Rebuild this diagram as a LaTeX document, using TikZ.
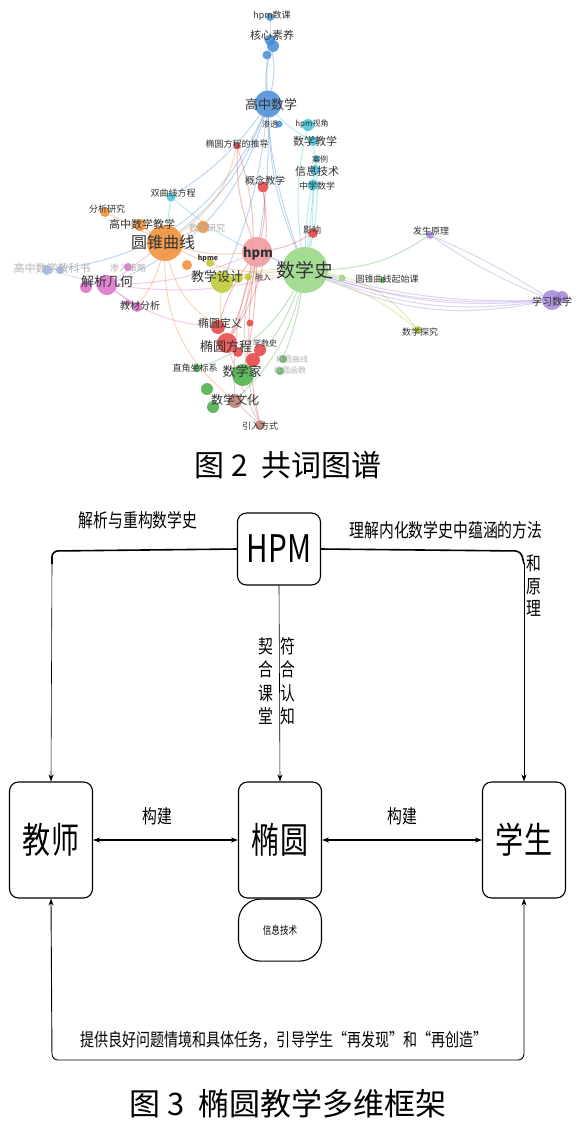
\documentclass[tikz,border=0pt]{standalone}
\usepackage{fontspec}
\setmainfont{Noto Sans CJK SC}
\usetikzlibrary{arrows.meta,positioning,backgrounds}
\definecolor{netblue}{RGB}{70,140,215}
\definecolor{netteal}{RGB}{60,195,215}
\definecolor{netorange}{RGB}{240,140,50}
\definecolor{netred}{RGB}{230,65,65}
\definecolor{netpink}{RGB}{240,150,155}
\definecolor{netgreen}{RGB}{70,175,70}
\definecolor{netlgreen}{RGB}{150,215,130}
\definecolor{netyellow}{RGB}{190,200,45}
\definecolor{netpurple}{RGB}{165,135,220}
\definecolor{netmagenta}{RGB}{220,110,200}
\definecolor{netbrown}{RGB}{185,120,110}
\definecolor{netlblue}{RGB}{150,180,230}
\newcommand{\nrw}[1]{\scalebox{0.78}[1]{#1}}
\newcommand{\fsz}[1]{\fontsize{#1}{#1}\selectfont}

\begin{document}
\begin{tikzpicture}[x=1pt, y=-1pt]
\tikzset{
  vtx/.style={circle, inner sep=0pt, minimum size=#1, fill opacity=0.85},
  lbl/.style={font=\fsz{#1}, inner sep=0pt, text=black!80},
  faint/.style={font=\fsz{#1}, inner sep=0pt, text=black!30},
  link/.style={draw=#1, opacity=0.35, line width=1pt},
  box/.style={draw, rounded corners=9pt, line width=1.1pt, minimum width=83pt, minimum height=116pt, inner sep=0pt},
  heavy/.style={line width=1.6pt},
  thinln/.style={line width=0.6pt},
  tip/.style={-{Stealth[length=7pt,width=5pt]}}
}
\useasboundingbox (0,0) rectangle (577,1130);

% co-word network
\node[vtx=8, fill=netblue] (hpmsk) at (270,17) {};
\node[vtx=11, fill=netblue] (hxsy) at (270,40) {};
\node[vtx=12, fill=netblue] (hxsyb) at (273,46) {};
\node[vtx=9, fill=netblue] (hxsyc) at (267,55) {};
\node[vtx=27, fill=netblue] (gzsx) at (268,104) {};
\node[vtx=7, fill=netblue] (st) at (279,124) {};
\node[vtx=12, fill=netteal] (hpmsj) at (308,125) {};
\node[vtx=10, fill=netteal] (sxjx) at (313,141) {};
\node[vtx=7, fill=netteal] (al) at (317,159) {};
\node[vtx=10, fill=netteal] (xxjs) at (315,170) {};
\node[vtx=11, fill=netteal] (zxsx) at (313,185) {};
\node[vtx=9, fill=netteal] (sqx) at (171,197) {};
\node[vtx=7, fill=netred] (tyfcdtd) at (237,146) {};
\node[vtx=11, fill=netred] (gnjx) at (263,187) {};
\node[vtx=10, fill=netred] (yx) at (313,233) {};
\node[vtx=30, fill=netpink] (hpm) at (257,252) {};
\node[vtx=10, fill=netorange] (fxyj) at (105,212) {};
\node[vtx=12, fill=netorange] (gzsxjx) at (140,225) {};
\node[vtx=12, fill=netorange] (jxyj) at (203,227) {};
\node[vtx=36, fill=netorange] (yzqx) at (165,243) {};
\node[vtx=10, fill=netorange] (kyjs) at (187,265) {};
\node[vtx=8, fill=netyellow] (hpme) at (210,263) {};
\node[vtx=22, fill=netyellow] (jxsj) at (222,282) {};
\node[vtx=10, fill=netyellow] (jxsjb) at (238,278) {};
\node[vtx=7, fill=netyellow] (ry) at (248,277) {};
\node[vtx=46, fill=netlgreen] (sxs) at (305,270) {};
\node[vtx=7, fill=netlgreen] (yzqxqsk) at (342,278) {};
\node[vtx=6, fill=netgreen] (yzqxqskb) at (383,280) {};
\node[vtx=8, fill=netpurple] (fsyl) at (430,235) {};
\node[vtx=20, fill=netpurple] (xxsx) at (552,300) {};
\node[vtx=12, fill=netpurple] (xxsxb) at (562,297) {};
\node[vtx=8, fill=netyellow] (sxtj) at (418,330) {};
\node[vtx=10, fill=netlblue] (gzjks) at (47,270) {};
\node[vtx=8, fill=netlblue] (gzjksb) at (60,270) {};
\node[vtx=8, fill=netmagenta] (srcl) at (128,267) {};
\node[vtx=20, fill=netmagenta] (jxjh) at (107,285) {};
\node[vtx=12, fill=netmagenta] (jxjhb) at (86,287) {};
\node[vtx=10, fill=netmagenta] (jcfx) at (137,307) {};
\node[vtx=6, fill=netmagenta] (jcfxb) at (128,303) {};
\node[vtx=14, fill=netred] (tydy) at (218,327) {};
\node[vtx=7, fill=netred] (tydyb) at (250,323) {};
\node[vtx=20, fill=netred] (tyfc) at (227,343) {};
\node[vtx=10, fill=netred] (tyfcb) at (238,352) {};
\node[vtx=12, fill=netred] (tyfcc) at (260,350) {};
\node[vtx=14, fill=netred] (tyfcd) at (253,360) {};
\node[vtx=22, fill=netgreen] (sxj) at (243,375) {};
\node[vtx=8, fill=netgreen] (tyqx) at (283,359) {};
\node[vtx=8, fill=netgreen] (tyhs) at (280,371) {};
\node[vtx=8, fill=netgreen] (zjzbx) at (197,368) {};
\node[vtx=12, fill=netgreen] (sxjd) at (207,389) {};
\node[vtx=14, fill=netbrown] (sxwh) at (235,401) {};
\node[vtx=12, fill=netgreen] (whst) at (213,407) {};
\node[vtx=10, fill=netbrown] (yrfs) at (260,425) {};

\begin{pgfonlayer}{background}
\fill[white] (0,0) rectangle (577,1130);
\foreach \a/\b/\c/\k in {hpmsk/hxsy/netblue/0, hxsy/gzsx/netblue/12, hxsyb/gzsx/netblue/-12,
  hxsyc/sxs/netblue/-10, gzsx/sxs/netblue/-10, gzsx/yzqx/netblue/15, gzsx/jxjh/netblue/25,
  gzsx/gzjks/netblue/30, gzsx/hpm/netblue/5, gzsx/sqx/netblue/10, gzsx/jxsj/netblue/8,
  gzsx/sxjx/netteal/-10, hpmsj/sxs/netteal/-10, sxjx/sxs/netteal/10, xxjs/sxs/netteal/-5,
  zxsx/sxs/netteal/5, al/sxs/netteal/0, sqx/yzqx/netteal/0, sqx/sxs/netteal/-10,
  tyfcdtd/tyfc/netred/20, tyfcdtd/hpm/netred/-10, gnjx/hpm/netred/10, gnjx/tyfc/netred/20,
  yx/hpm/netred/10, hpm/tyfc/netred/10, hpm/tydy/netred/-10, hpm/sxj/netred/5, hpm/yrfs/netred/-10,
  yzqx/fxyj/netorange/0, yzqx/gzsxjx/netorange/0, yzqx/jxyj/netorange/0, yzqx/hpm/netorange/-10,
  yzqx/sxs/netorange/-15, yzqx/tydy/netorange/-20, yzqx/sxwh/netorange/-25, yzqx/jcfx/netorange/10,
  yzqx/tyfcdtd/netorange/-20, jxsj/sxs/netyellow/10, jxsj/tyfc/netyellow/-10,
  sxs/sxtj/netyellow/20, jxsj/sxtj/netyellow/25, sxs/yzqxqsk/netgreen/0, sxs/fsyl/netgreen/-15,
  sxs/sxj/netgreen/10, sxs/sxwh/netgreen/15, sxs/zjzbx/netgreen/20, sxs/tyqx/netgreen/5,
  sxs/xxsx/netpurple/-8, sxs/xxsx/netpurple/-11, sxs/xxsx/netpurple/-14, sxs/xxsx/netpurple/-17,
  hpm/xxsx/netpurple/-12, fsyl/xxsx/netpurple/-6, fsyl/xxsx/netpurple/4, jxjh/yzqx/netmagenta/0,
  jxjh/jcfx/netmagenta/0, jxjh/hpm/netmagenta/-10, jxjh/tydy/netmagenta/-15, jxjh/sxs/netmagenta/-10,
  gzjks/jxjh/netlblue/0, sxwh/yrfs/netbrown/0, sxwh/hpm/netbrown/10, yrfs/hpm/netbrown/15,
  yrfs/tyfc/netbrown/5}
  \draw[link=\c] (\a) to[bend left=\k] (\b);
\end{pgfonlayer}

\node[lbl=9] (hpmskL) at (272,16) {hpm数课};
\node[lbl=11] (hxsyL) at (272,35) {核心素养};
\node[lbl=13] (gzsxL) at (271,105) {高中数学};
\node[lbl=8] (stL) at (270,124) {渗透};
\node[lbl=8] (hpmsjL) at (312,124) {hpm视角};
\node[lbl=11] (sxjxL) at (315,141) {数学教学};
\node[lbl=8] (alL) at (320,159) {案例};
\node[lbl=11] (xxjsL) at (317,171) {信息技术};
\node[lbl=9] (zxsxL) at (317,186) {中学数学};
\node[lbl=9] (sqxL) at (173,193) {双曲线方程};
\node[lbl=9] (tyfcdtdL) at (237,144) {椭圆方程的推导};
\node[lbl=10] (gnjxL) at (265,181) {概念教学};
\node[lbl=9] (yxL) at (312,230) {影响};
\node[lbl=13, font=\fsz{13}\bfseries] (hpmL) at (258,254) {hpm};
\node[lbl=9] (fxyjL) at (107,209) {分析研究};
\node[lbl=11] (gzsxjxL) at (142,224) {高中数学教学};
\node[faint=9] (jxyjL) at (207,228) {教学研究};
\node[lbl=16] (yzqxL) at (163,242) {圆锥曲线};
\node[lbl=7, font=\fsz{7}\bfseries] (hpmeL) at (208,258) {hpme};
\node[lbl=13] (jxsjL) at (217,277) {教学设计};
\node[lbl=8] (ryL) at (263,277) {融入};
\node[lbl=19] (sxsL) at (305,270) {数学史};
\node[lbl=9] (yzqxqskL) at (387,279) {圆锥曲线起始课};
\node[lbl=9] (fsylL) at (431,231) {发生原理};
\node[lbl=10] (xxsxL) at (552,302) {学习数学};
\node[lbl=9] (sxtjL) at (420,332) {数学探究};
\node[faint=11] (gzjksL) at (52,268) {高中数学教科书};
\node[faint=9] (srclL) at (128,268) {渗入策略};
\node[lbl=13] (jxjhL) at (107,282) {解析几何};
\node[lbl=10] (jcfxL) at (140,306) {教材分析};
\node[lbl=11] (tydyL) at (220,323) {椭圆定义};
\node[lbl=8] (xsshL) at (265,343) {学数史};
\node[lbl=13] (tyfcL) at (226,347) {椭圆方程};
\node[faint=8] (tyqxL) at (292,359) {椭圆曲线};
\node[faint=8] (tyhsL) at (290,370) {椭圆函数};
\node[lbl=9] (zjzbxL) at (195,368) {直角坐标系};
\node[lbl=13] (sxjL) at (242,372) {数学家};
\node[lbl=12] (sxwhL) at (235,400) {数学文化};
\node[lbl=9] (yrfsL) at (260,426) {引入方式};

\node[font=\fsz{30}, inner sep=0pt] (cap2) at (288,465) {图 2\ \ 共词图谱};

% framework
\node[box, minimum height=72pt] (hpm3) at (279,549) {\nrw{\fsz{38}HPM}};
\node[box] (js) at (51,840) {\nrw{\fsz{36}教师}};
\node[box] (ty) at (280,840) {\nrw{\fsz{36}椭圆}};
\node[box] (xs) at (524,840) {\nrw{\fsz{36}学生}};
\node[draw, rounded corners=22pt, line width=1.1pt, minimum width=83pt, minimum height=62pt, inner sep=0pt, below=0pt of ty] (xxjs3) {\nrw{\fsz{11}信息技术}};

\coordinate (tl) at (52,551);
\coordinate (tld) at (52,564);
\coordinate (tr) at (521,551);
\coordinate (trd) at (524,564);
\coordinate (bl) at (52,1060);
\coordinate (br) at (524,1060);

\draw[heavy, rounded corners=6pt] (hpm3.west) -- (tl) -- (tld);
\draw[thinln, tip] (tld) -- (js.north);
\draw[heavy, rounded corners=6pt] (hpm3.east) -- (tr) -- (trd);
\draw[thinln, tip] (trd) -- (xs.north);
\draw[thinln, tip] (hpm3.south) -- (ty.north);
\draw[heavy, {Stealth[length=7pt,width=5pt]}-{Stealth[length=7pt,width=5pt]}] (js.east) -- (ty.west);
\draw[heavy, {Stealth[length=7pt,width=5pt]}-{Stealth[length=7pt,width=5pt]}] (ty.east) -- (xs.west);
\draw[thinln, line width=0.9pt, rounded corners=6pt, {Stealth[length=7pt,width=5pt]}-{Stealth[length=7pt,width=5pt]}] (js.south) -- (bl) -- (br) -- (xs.south);

\node[font=\fsz{19}, inner sep=0pt] (jxcg) at (138,520) {\nrw{解析与重构数学史}};
\node[font=\fsz{19}, inner sep=0pt] (ljnh) at (446,530) {\nrw{理解内化数学史中蕴涵的方法}};
\node[font=\fsz{19}, inner sep=0pt] (hyl) at (534,586) {\nrw{\shortstack{和\\[3pt]原\\[3pt]理}}};
\node[font=\fsz{19}, inner sep=0pt] (qhkt) at (266,681) {\nrw{\shortstack{契\\[3pt]合\\[3pt]课\\[3pt]堂}}};
\node[font=\fsz{19}, inner sep=0pt] (fhrz) at (288,681) {\nrw{\shortstack{符\\[3pt]合\\[3pt]认\\[3pt]知}}};
\node[font=\fsz{19}, inner sep=0pt] (gj1) at (157,816) {\nrw{构建}};
\node[font=\fsz{19}, inner sep=0pt] (gj2) at (402,816) {\nrw{构建}};
\node[font=\fsz{18}, inner sep=0pt] (tgwt) at (284,1040) {\nrw{提供良好问题情境和具体任务，引导学生“再发现”和“再创造”}};

\node[font=\fsz{31}, inner sep=0pt] (cap3) at (288,1104) {图 3\ \ 椭圆教学多维框架};
\end{tikzpicture}
\end{document}
